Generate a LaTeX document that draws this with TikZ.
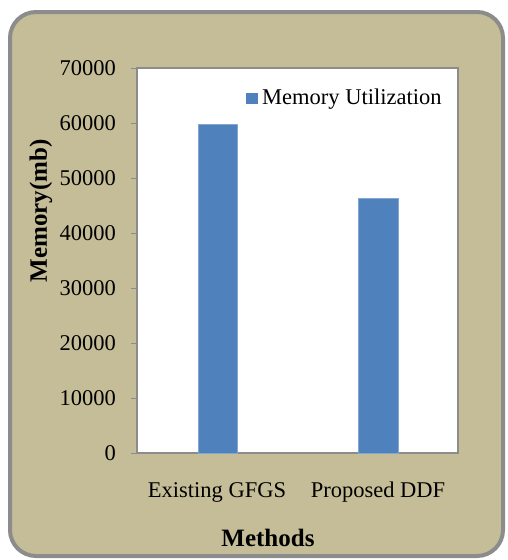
\documentclass[tikz,border=0pt]{standalone}
\usepackage{fontspec}
\setmainfont{Liberation Serif}
\definecolor{panel}{HTML}{C4BD97}
\definecolor{rim}{HTML}{8C8C8C}
\definecolor{barblue}{HTML}{4F81BD}
\begin{document}
\begin{tikzpicture}[x=1pt,y=-1pt,
  lbl/.style={font=\fontsize{22.5}{27}\selectfont, inner sep=0pt},
  boldlbl/.style={font=\fontsize{25}{30}\selectfont\bfseries, inner sep=0pt},
  bar/.style={fill=barblue, draw=barblue!70!white, line width=0.6pt}]
\useasboundingbox (0,0) rectangle (508,560);
% outer panel
\draw[rim, fill=panel, line width=4pt, rounded corners=26pt] (10,12) rectangle (503,556);
% plot area
\draw[rim, fill=white, line width=1.8pt] (137,68) rectangle (458,453);
% y ticks and labels
\foreach \v [count=\i from 0] in {0,10000,20000,30000,40000,50000,60000,70000} {
  \draw[rim, line width=1pt] (131,{453-55*\i}) -- (137,{453-55*\i});
  \node[lbl, anchor=east] (t\i) at (116,{453-55*\i}) {\v};
}
% bars
\draw[bar] (198,453) rectangle (237,124);
\draw[bar] (358,453) rectangle (398,198);
% legend
\fill[barblue] (246,93) rectangle (258,104);
\node[lbl, anchor=west] (leg) at (262,99) {Memory Utilization};
% category labels
\node[lbl, anchor=base] (c1) at (217,497) {Existing GFGS};
\node[lbl, anchor=base] (c2) at (378,497) {Proposed DDF};
% axis titles
\node[boldlbl, anchor=base] (xt) at (268,546) {Methods};
\node[boldlbl, rotate=90] (yt) at (41,211) {Memory(mb)};
\end{tikzpicture}
\end{document}
